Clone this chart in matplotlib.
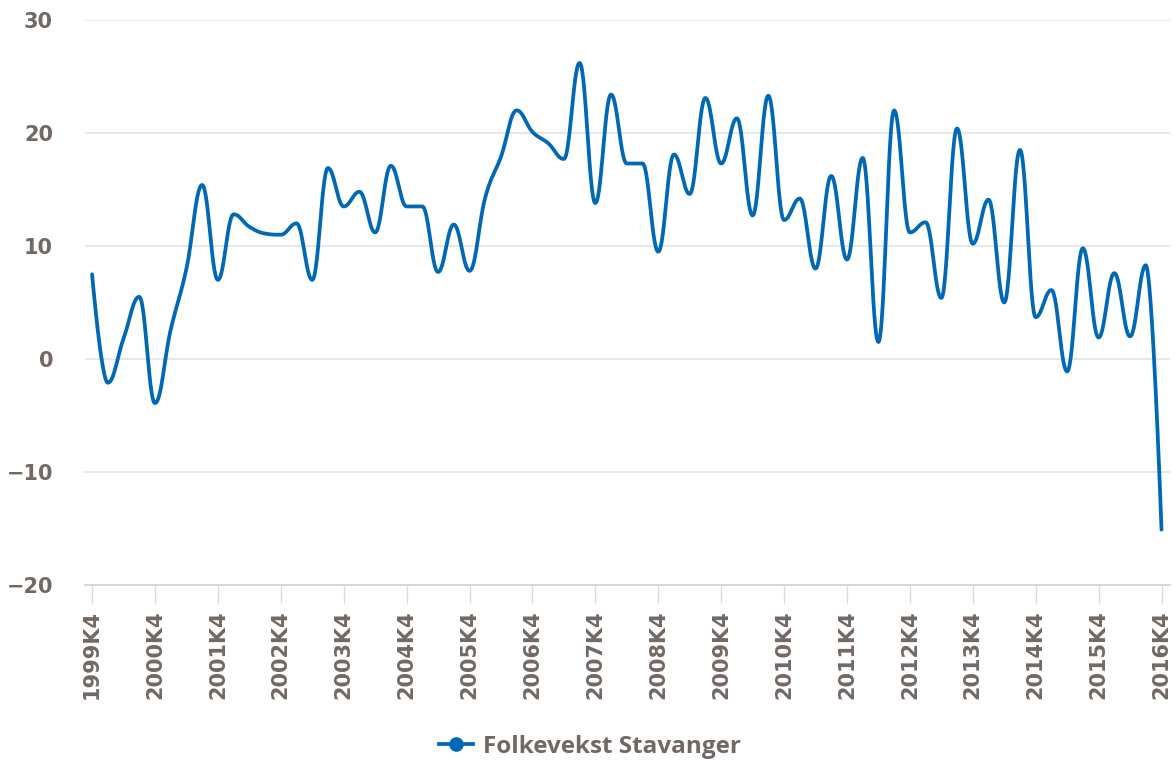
import numpy as np
import matplotlib
matplotlib.use("Agg")
import matplotlib.pyplot as plt
from matplotlib.lines import Line2D

# Folkevekst Stavanger, kvartalsvis 1999K4 - 2016K4
years = list(range(1999, 2017))
quarters = ["1999K4"] + [f"{y}K{q}" for y in range(2000, 2017) for q in (1, 2, 3, 4)]
tick_labels = [f"{y}K4" for y in years]

values = [7.5, -2.1, 1.8, 5.5, -3.9, 2.6, 8.0, 15.4, 7.0, 12.8,
          11.7, 11.1, 11.0, 12.0, 7.0, 16.9, 13.5, 14.8, 11.2, 17.1,
          13.5, 13.5, 7.7, 11.9, 7.8, 14.3, 17.9, 22.0, 20.1, 19.1,
          17.7, 26.2, 13.8, 23.4, 17.3, 17.3, 9.5, 18.1, 14.6, 23.1,
          17.3, 21.3, 12.7, 23.3, 12.3, 14.2, 8.0, 16.2, 8.8, 17.8,
          1.5, 22.0, 11.2, 12.1, 5.4, 20.4, 10.2, 14.1, 5.0, 18.5,
          3.7, 6.1, -1.1, 9.8, 1.9, 7.6, 2.0, 8.3, -15.1]

series_name = "Folkevekst Stavanger"
line_color = "#0068b4"
text_color = "#736964"
grid_color = "#e6e6e6"


def spline_path(x, y, smoothing=1.5, n=30):
    """bezier-spline through the points, no overshoot at extremes"""
    x = np.asarray(x, float)
    y = np.asarray(y, float)
    m = len(x)
    lcx, lcy = x.copy(), y.copy()
    rcx, rcy = x.copy(), y.copy()
    denom = smoothing + 1
    for i in range(1, m - 1):
        px, py = x[i], y[i]
        lx, ly = x[i - 1], y[i - 1]
        nx, ny = x[i + 1], y[i + 1]
        lcx[i] = (smoothing * px + lx) / denom
        l_y = (smoothing * py + ly) / denom
        rcx[i] = (smoothing * px + nx) / denom
        r_y = (smoothing * py + ny) / denom
        corr = 0.0
        if rcx[i] != lcx[i]:
            corr = (r_y - l_y) * (rcx[i] - px) / (rcx[i] - lcx[i]) + py - r_y
        l_y += corr
        r_y += corr
        if l_y > ly and l_y > py:
            l_y = max(ly, py)
            r_y = 2 * py - l_y
        elif l_y < ly and l_y < py:
            l_y = min(ly, py)
            r_y = 2 * py - l_y
        if r_y > ny and r_y > py:
            r_y = max(ny, py)
            l_y = 2 * py - r_y
        elif r_y < ny and r_y < py:
            r_y = min(ny, py)
            l_y = 2 * py - r_y
        lcy[i], rcy[i] = l_y, r_y

    t = np.linspace(0, 1, n)[:, None]
    xs, ys = [x[:1]], [y[:1]]
    for i in range(1, m):
        p0 = np.array([x[i - 1], y[i - 1]])
        p1 = np.array([rcx[i - 1], rcy[i - 1]])
        p2 = np.array([lcx[i], lcy[i]])
        p3 = np.array([x[i], y[i]])
        b = ((1 - t) ** 3) * p0 + 3 * ((1 - t) ** 2) * t * p1 \
            + 3 * (1 - t) * t ** 2 * p2 + t ** 3 * p3
        xs.append(b[1:, 0])
        ys.append(b[1:, 1])
    return np.concatenate(xs), np.concatenate(ys)


fig = plt.figure(figsize=(11.75, 7.61), dpi=100)
ax = fig.add_axes([85 / 1175, 1 - 585 / 761, 1085 / 1175, 565 / 761])

xi = np.arange(len(values))
sx, sy = spline_path(xi, values)
ax.plot(sx, sy, color=line_color, lw=2.7, solid_capstyle="round",
        solid_joinstyle="round", zorder=3)

ax.set_xlim(-0.45, len(values) - 1 + 0.54)
ax.set_ylim(-20, 30)
ax.set_yticks([-20, -10, 0, 10, 20, 30])
ax.set_yticklabels(["−20", "−10", "0", "10", "20", "30"])
ax.set_xticks(xi[::4])
ax.set_xticklabels([quarters[i] for i in xi[::4]], rotation=90)

ax.grid(axis="y", color=grid_color, lw=1.3)
ax.set_axisbelow(True)
for side in ("top", "right", "left"):
    ax.spines[side].set_visible(False)
ax.spines["bottom"].set_color("#d6d6d6")
ax.spines["bottom"].set_linewidth(1.3)

ax.tick_params(axis="y", length=0, pad=23, labelsize=15, labelcolor=text_color)
ax.tick_params(axis="x", length=13, width=1.0, color="#dcdcdc", pad=5,
               labelsize=15, labelcolor=text_color)
for lab in ax.get_xticklabels() + ax.get_yticklabels():
    lab.set_fontweight("bold")
    lab.set_family("DejaVu Sans")

handle = Line2D([], [], color=line_color, lw=2.7, marker="o", markersize=9.5,
                markerfacecolor=line_color, markeredgecolor=line_color)
leg = fig.legend([handle], [series_name], loc="center",
                 bbox_to_anchor=(590 / 1175, 1 - 747 / 761), frameon=False,
                 handlelength=1.4, handletextpad=0.45,
                 prop={"family": ["Open Sans", "DejaVu Sans"], "weight": "bold", "size": 17.5})
for t in leg.get_texts():
    t.set_color(text_color)

fig.savefig("out.png", dpi=100)
